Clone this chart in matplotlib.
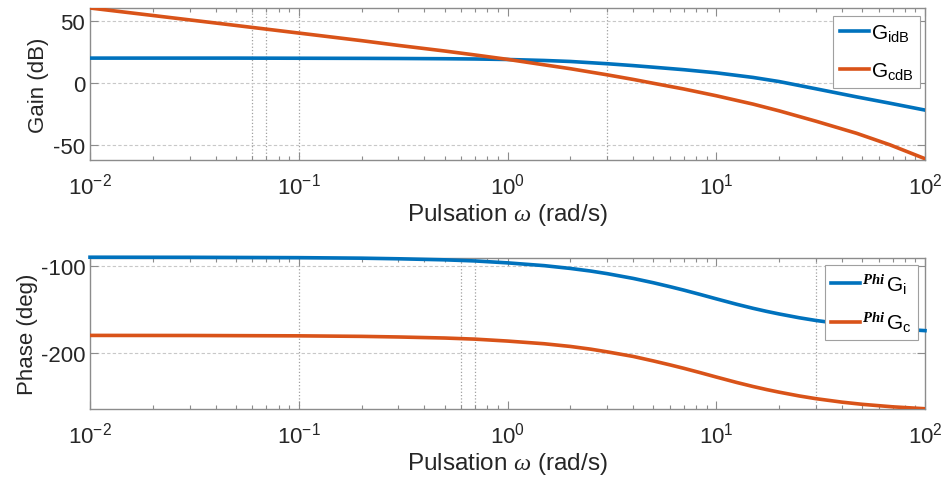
import numpy as np
import matplotlib
matplotlib.use("Agg")
import matplotlib.pyplot as plt
from matplotlib.ticker import LogLocator, NullFormatter, FixedLocator

plt.rcParams['font.family'] = ['Liberation Sans', 'DejaVu Sans']
plt.rcParams['mathtext.fontset'] = 'custom'
plt.rcParams['mathtext.rm'] = 'Liberation Sans'
plt.rcParams['mathtext.it'] = 'Liberation Serif:italic'
plt.rcParams['mathtext.bf'] = 'Liberation Serif:italic:bold'
plt.rcParams['axes.unicode_minus'] = False

# ---- data ----
omega_g = [0.01, 0.02, 0.05, 0.1, 0.2, 0.3, 0.5, 0.7, 1.0, 1.5, 2.0, 3.0, 4.0, 5.0, 7.0,
           10.0, 15.0, 20.0, 30.0, 47.0, 68.0, 100.0]
gain_i = [20.0, 20.0, 20.0, 19.9, 19.8, 19.7, 19.5, 19.3, 18.9, 18.1, 17.3, 15.5, 14.0, 12.7, 10.7,
          8.2, 4.5, 1.2, -4.6, -11.1, -16.2, -21.7]
gain_c = [60.2, 54.2, 46.2, 40.1, 34.0, 30.2, 25.7, 22.5, 19.0, 14.6, 11.5, 6.6, 2.9, -0.2, -4.8,
          -10.2, -16.9, -22.3, -30.6, -40.3, -49.6, -60.7]

omega_p = [0.01, 0.03, 0.1, 0.2, 0.3, 0.5, 0.7, 1.0, 1.5, 2.0, 2.5, 3.0, 4.0, 5.0, 6.0, 7.0, 8.36,
           10.0, 12.5, 15.0, 17.4, 20.0, 25.0, 30.0, 40.0, 50.0, 70.0, 100.0]
phase_i = [-90.1, -90.2, -90.6, -91.2, -91.9, -93.1, -94.4, -96.6, -99.8, -103.0, -106.0, -109.0,
           -114.5, -119.5, -124.0, -128.0, -132.9, -138.0, -144.2, -148.9, -152.4, -155.4,
           -159.8, -162.9, -166.9, -169.4, -172.3, -174.6]
phase_c = [-180.1, -180.2, -180.6, -181.2, -181.9, -183.1, -184.4, -186.6, -189.7, -192.8, -195.9,
           -199.0, -204.3, -209.5, -214.0, -218.0, -222.9, -228.0, -234.2, -238.9, -242.4,
           -245.4, -249.8, -252.9, -256.9, -259.4, -262.3, -264.5]

gain_marks = [0.06, 0.07, 0.1, 3.0]
phase_marks = [0.1, 0.6, 0.7, 30.0]

xticks = [0.01, 0.1, 1, 10, 100]
gain_ticks = [-50, 0, 50]
phase_ticks = [-200, -100]

blue = '#0072BD'
orange = '#D95319'
spine_col = '#8c8c8c'
txt_col = '#262626'

fig = plt.figure(figsize=(9.44, 4.85), dpi=100)
ax1 = fig.add_axes([90/944, 1-160.7/485, 835/944, 151.7/485])
ax2 = fig.add_axes([90/944, 1-410/485, 835/944, 151/485])

def style(ax, yticks, ylim):
    ax.set_xscale('log')
    ax.set_xlim(0.01, 100)
    ax.set_ylim(*ylim)
    ax.xaxis.set_major_locator(FixedLocator(xticks))
    ax.xaxis.set_minor_locator(LogLocator(base=10, subs=np.arange(2, 10)))
    ax.xaxis.set_minor_formatter(NullFormatter())
    ax.set_yticks(yticks)
    ax.yaxis.grid(True, linestyle=(0, (3, 2)), color='#c8c8c8', linewidth=0.8)
    ax.tick_params(which='both', direction='in', top=True, right=True,
                   colors=spine_col, labelcolor=txt_col, labelsize=16)
    ax.tick_params(which='major', length=6, width=0.8)
    ax.tick_params(which='minor', length=3, width=0.8)
    ax.tick_params(axis='x', pad=9)
    for s in ax.spines.values():
        s.set_color(spine_col)
        s.set_linewidth(1.0)
    ax.set_xlabel(r'Pulsation $\omega$ (rad/s)', fontsize=17.5, color=txt_col, labelpad=2)

style(ax1, gain_ticks, (-61.5, 60.2))
style(ax2, phase_ticks, (-264.8, -91.0))

for m in gain_marks:
    ax1.axvline(m, color='#a0a0a0', linestyle=':', linewidth=0.9, zorder=1)
for m in phase_marks:
    ax2.axvline(m, color='#a0a0a0', linestyle=':', linewidth=0.9, zorder=1)

ax1.plot(omega_g, gain_i, color=blue, linewidth=2.6, label=r'$\mathrm{G_{idB}}$', zorder=3)
ax1.plot(omega_g, gain_c, color=orange, linewidth=2.6, label=r'$\mathrm{G_{cdB}}$', zorder=3)
ax2.plot(omega_p, phase_i, color=blue, linewidth=2.6, label=r'${}^{\mathbf{Phi}}\,\mathrm{G_i}$',
         zorder=3, clip_on=False)
ax2.plot(omega_p, phase_c, color=orange, linewidth=2.6, label=r'${}^{\mathbf{Phi}}\,\mathrm{G_c}$',
         zorder=3)

ax1.set_ylabel('Gain (dB)', fontsize=16, color=txt_col, labelpad=3)
ax2.set_ylabel('Phase (deg)', fontsize=16, color=txt_col, labelpad=2)

for ax, anchor, sp in ((ax1, (0.994, 0.945), 0.8), (ax2, (0.992, 0.955), 0.65)):
    leg = ax.legend(loc='upper right', bbox_to_anchor=anchor, fontsize=15,
                    handlelength=1.4, handletextpad=0.1, borderpad=0.3,
                    labelspacing=sp, fancybox=False, framealpha=1,
                    borderaxespad=0)
    leg.get_frame().set_edgecolor('#a0a0a0')
    leg.get_frame().set_linewidth(0.8)

fig.savefig('out.png', dpi=100)
